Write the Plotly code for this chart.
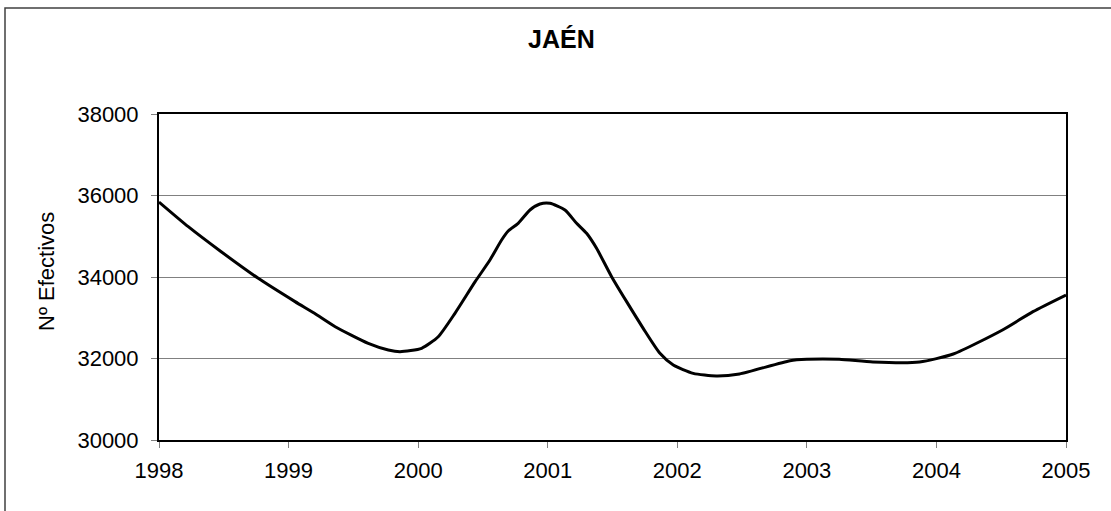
import plotly.graph_objects as go

years = [1998.00, 1998.226, 1998.48, 1998.766, 1999.05, 1999.20, 1999.36, 1999.615, 1999.77, 1999.86,
         2000.027, 2000.155, 2000.284, 2000.44, 2000.554, 2000.644, 2000.695, 2000.772, 2000.863,
         2000.94, 2001.017, 2001.133, 2001.223, 2001.30, 2001.377, 2001.493, 2001.609, 2001.737, 2001.866,
         2001.969, 2002.123, 2002.30, 2002.48, 2002.87, 2003.00, 2003.25, 2003.51, 2003.87, 2004.13,
         2004.51, 2004.745, 2005.00]
efectivos = [35840, 35235, 34620, 33967, 33395, 33108, 32780, 32372, 32209, 32167,
             32250, 32535, 33108, 33885, 34417, 34908, 35129, 35317, 35644,
             35791, 35808, 35644, 35317, 35072, 34704, 34008, 33395, 32740, 32128,
             31840, 31636, 31570, 31620, 31947, 31980, 31980, 31914, 31914, 32110,
             32700, 33150, 33558]
x_ticks = [1998, 1999, 2000, 2001, 2002, 2003, 2004, 2005]
y_ticks = [30000, 32000, 34000, 36000, 38000]

title_text = "JAÉN"
y_label = "Nº Efectivos"

FONT = "Liberation Sans, Arial, sans-serif"

fig = go.Figure()
fig.add_trace(go.Scatter(
    x=years, y=efectivos, mode="lines",
    line=dict(color="black", width=3, shape="spline", smoothing=0.6),
    hoverinfo="skip", showlegend=False,
))

W, H = 1111, 511
L, R, T, B = 159, 45, 114, 71
pw, ph = W - L - R, H - T - B

def px_x(px):
    return (px - L) / pw

def px_y(py):
    return (H - B - py) / ph

fig.update_layout(
    width=W, height=H,
    margin=dict(l=L, r=R, t=T, b=B, pad=0),
    paper_bgcolor="white", plot_bgcolor="white",
    font=dict(family=FONT, size=22, color="black"),
    showlegend=False,
    xaxis=dict(
        range=[x_ticks[0], x_ticks[-1]], tickvals=x_ticks, ticktext=[str(v) for v in x_ticks],
        showgrid=False, zeroline=False,
        showline=True, linecolor="black", linewidth=2, mirror=True,
        ticks="outside", ticklen=6, tickcolor="#808080", tickwidth=1,
        ticklabelstandoff=4,
        tickfont=dict(family=FONT, size=22, color="black"),
    ),
    yaxis=dict(
        range=[y_ticks[0], y_ticks[-1]], tickvals=y_ticks, ticktext=[str(v) for v in y_ticks],
        showgrid=True, gridcolor="#808080", gridwidth=1, zeroline=False,
        showline=True, linecolor="black", linewidth=2, mirror=True,
        ticks="outside", ticklen=6, tickcolor="#808080", tickwidth=1,
        ticklabelstandoff=8,
        tickfont=dict(family=FONT, size=22, color="black"),
    ),
    shapes=[dict(
        type="rect", xref="paper", yref="paper",
        x0=px_x(5), x1=px_x(1120), y0=px_y(520), y1=px_y(8),
        line=dict(color="#404040", width=1.5), fillcolor="rgba(0,0,0,0)", layer="below",
    )],
    annotations=[
        dict(text="<b>" + title_text + "</b>", xref="paper", yref="paper",
             x=px_x(561), y=px_y(39), xanchor="center", yanchor="middle",
             showarrow=False, font=dict(family=FONT, size=25, color="black")),
        dict(text=y_label, xref="paper", yref="paper",
             x=px_x(46), y=px_y(272), xanchor="center", yanchor="middle", textangle=-90,
             showarrow=False, font=dict(family=FONT, size=22, color="black")),
    ],
)

fig.write_html("out.html", config={"displayModeBar": False},
               post_script="document.body.style.margin='0';document.body.style.overflow='hidden';")
